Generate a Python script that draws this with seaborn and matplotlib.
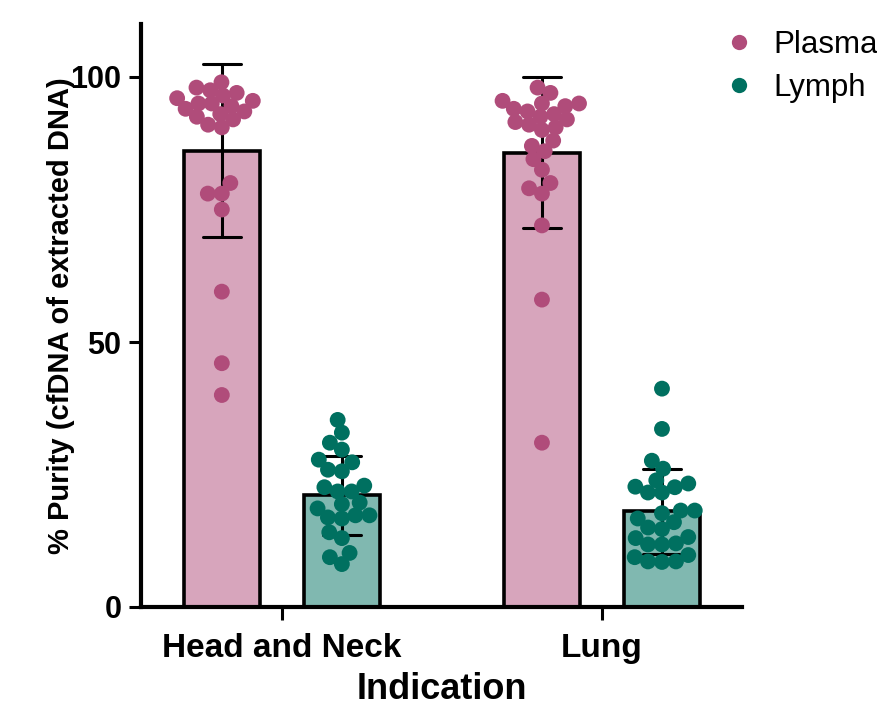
import numpy as np
import pandas as pd
import seaborn as sns
import matplotlib
matplotlib.use("Agg")
import matplotlib.pyplot as plt
from matplotlib.lines import Line2D
from matplotlib.collections import PathCollection

# ---- data ----
categories = ["Head and Neck", "Lung"]
groups = ["Plasma", "Lymph"]

hn_plasma = [99, 98, 97.5, 97, 96.5, 96, 95.5, 95, 95, 94.5, 94, 93.5, 93, 92.5,
             92, 91, 90.5, 80, 78, 78, 75, 59.5, 46, 40]
hn_lymph = [35.3, 32.9, 31.0, 29.7, 27.8, 27.3, 25.9, 25.6, 22.9, 22.6, 21.8, 21.8,
            19.4, 19.7, 18.6, 17.3, 16.7, 16.9, 17.3, 13.0, 14.1, 9.4, 10.2, 8.1]
lung_plasma = [98, 97, 95.5, 95, 95, 94.5, 94, 93.5, 93, 92.5, 92, 91.5, 91, 90.5,
               90, 88, 87, 86, 84.5, 82.5, 80, 79, 78, 72, 58, 31]
lung_lymph = [41.2, 33.6, 27.6, 26.1, 22.7, 23.3, 23.9, 22.6, 21.6, 21.6, 18.2, 17.7,
              18.2, 16.7, 15.0, 16.0, 14.7, 13.2, 13.0, 11.8, 11.8, 12.0, 9.8, 8.5,
              9.4, 8.6, 8.6]

series = {
    ("Head and Neck", "Plasma"): hn_plasma,
    ("Head and Neck", "Lymph"): hn_lymph,
    ("Lung", "Plasma"): lung_plasma,
    ("Lung", "Lymph"): lung_lymph,
}

# ---- layout / style ----
OFFSET = 0.1875
point_colors = {"Plasma": "#B04C7A", "Lymph": "#007060"}
bar_colors = {"Plasma": "#D7A5BC", "Lymph": "#80B8B0"}

rows = []
for (cat, grp), vals in series.items():
    ci = categories.index(cat)
    pos = ci + (-OFFSET if grp == "Plasma" else OFFSET)
    for v in vals:
        rows.append({"Indication": cat, "Sample": grp, "pos": pos, "Purity": v})
df = pd.DataFrame(rows)

sns.set_style("ticks")
plt.rcParams["font.family"] = ["Liberation Sans", "DejaVu Sans"]
for k in ["text.color", "axes.labelcolor", "xtick.color", "ytick.color", "axes.edgecolor"]:
    plt.rcParams[k] = "black"

fig = plt.figure(figsize=(8.77, 7.06), dpi=100)
ax = fig.add_axes([141 / 877, 1 - 607 / 706, (742 - 141) / 877, (607 - 24) / 706])

sns.barplot(data=df, x="pos", y="Purity", hue="Sample", hue_order=groups,
            palette=bar_colors, native_scale=True, dodge=False, width=0.6333,
            saturation=1, errorbar="sd", capsize=0.32,
            err_kws={"color": "black", "linewidth": 2.2},
            edgecolor="black", linewidth=2.6, legend=False, ax=ax, zorder=2)

sns.swarmplot(data=df, x="pos", y="Purity", hue="Sample", hue_order=groups,
              palette=point_colors, native_scale=True, size=9.6, linewidth=0,
              legend=False, ax=ax, zorder=4)

ax.set_xlim(-0.44, 1.4375)
ax.set_ylim(0, 110)
ax.set_xticks([0, 1])
ax.set_xticklabels(categories, fontsize=24, fontweight="bold")
ax.set_yticks([0, 50, 100])
ax.set_yticklabels(["0", "50", "100"], fontsize=22, fontweight="bold")
ax.tick_params(axis="both", length=9, width=2.2, color="black")
ax.tick_params(axis="x", pad=10)
ax.tick_params(axis="y", pad=5)

for s in ["top", "right"]:
    ax.spines[s].set_visible(False)
for s in ["left", "bottom"]:
    ax.spines[s].set_linewidth(3)
    ax.spines[s].set_color("black")

ax.set_xlabel("Indication", fontsize=26, fontweight="bold")
ax.xaxis.set_label_coords(0.5, -0.111)
ax.set_ylabel("% Purity (cfDNA of extracted DNA)", fontsize=21, fontweight="bold")
ax.yaxis.set_label_coords(-0.11, 0.5)

handles = [Line2D([], [], marker="o", linestyle="none", markersize=11,
                  markerfacecolor=point_colors[g], markeredgewidth=0) for g in groups]
fig.legend(handles, groups, loc="upper left", bbox_to_anchor=(723 / 877, 1 - 30 / 706),
           frameon=False, fontsize=22.5, handlelength=1.0, handletextpad=0.6,
           labelspacing=0.42, borderpad=0, borderaxespad=0)

# compute the swarm layout once, then freeze it and draw larger, overlapping dots
fig.canvas.draw()
for coll in ax.collections:
    if isinstance(coll, PathCollection) and "draw" in coll.__dict__:
        del coll.draw
        coll.set_sizes([11.4 ** 2])

fig.savefig("out.png", dpi=100)
